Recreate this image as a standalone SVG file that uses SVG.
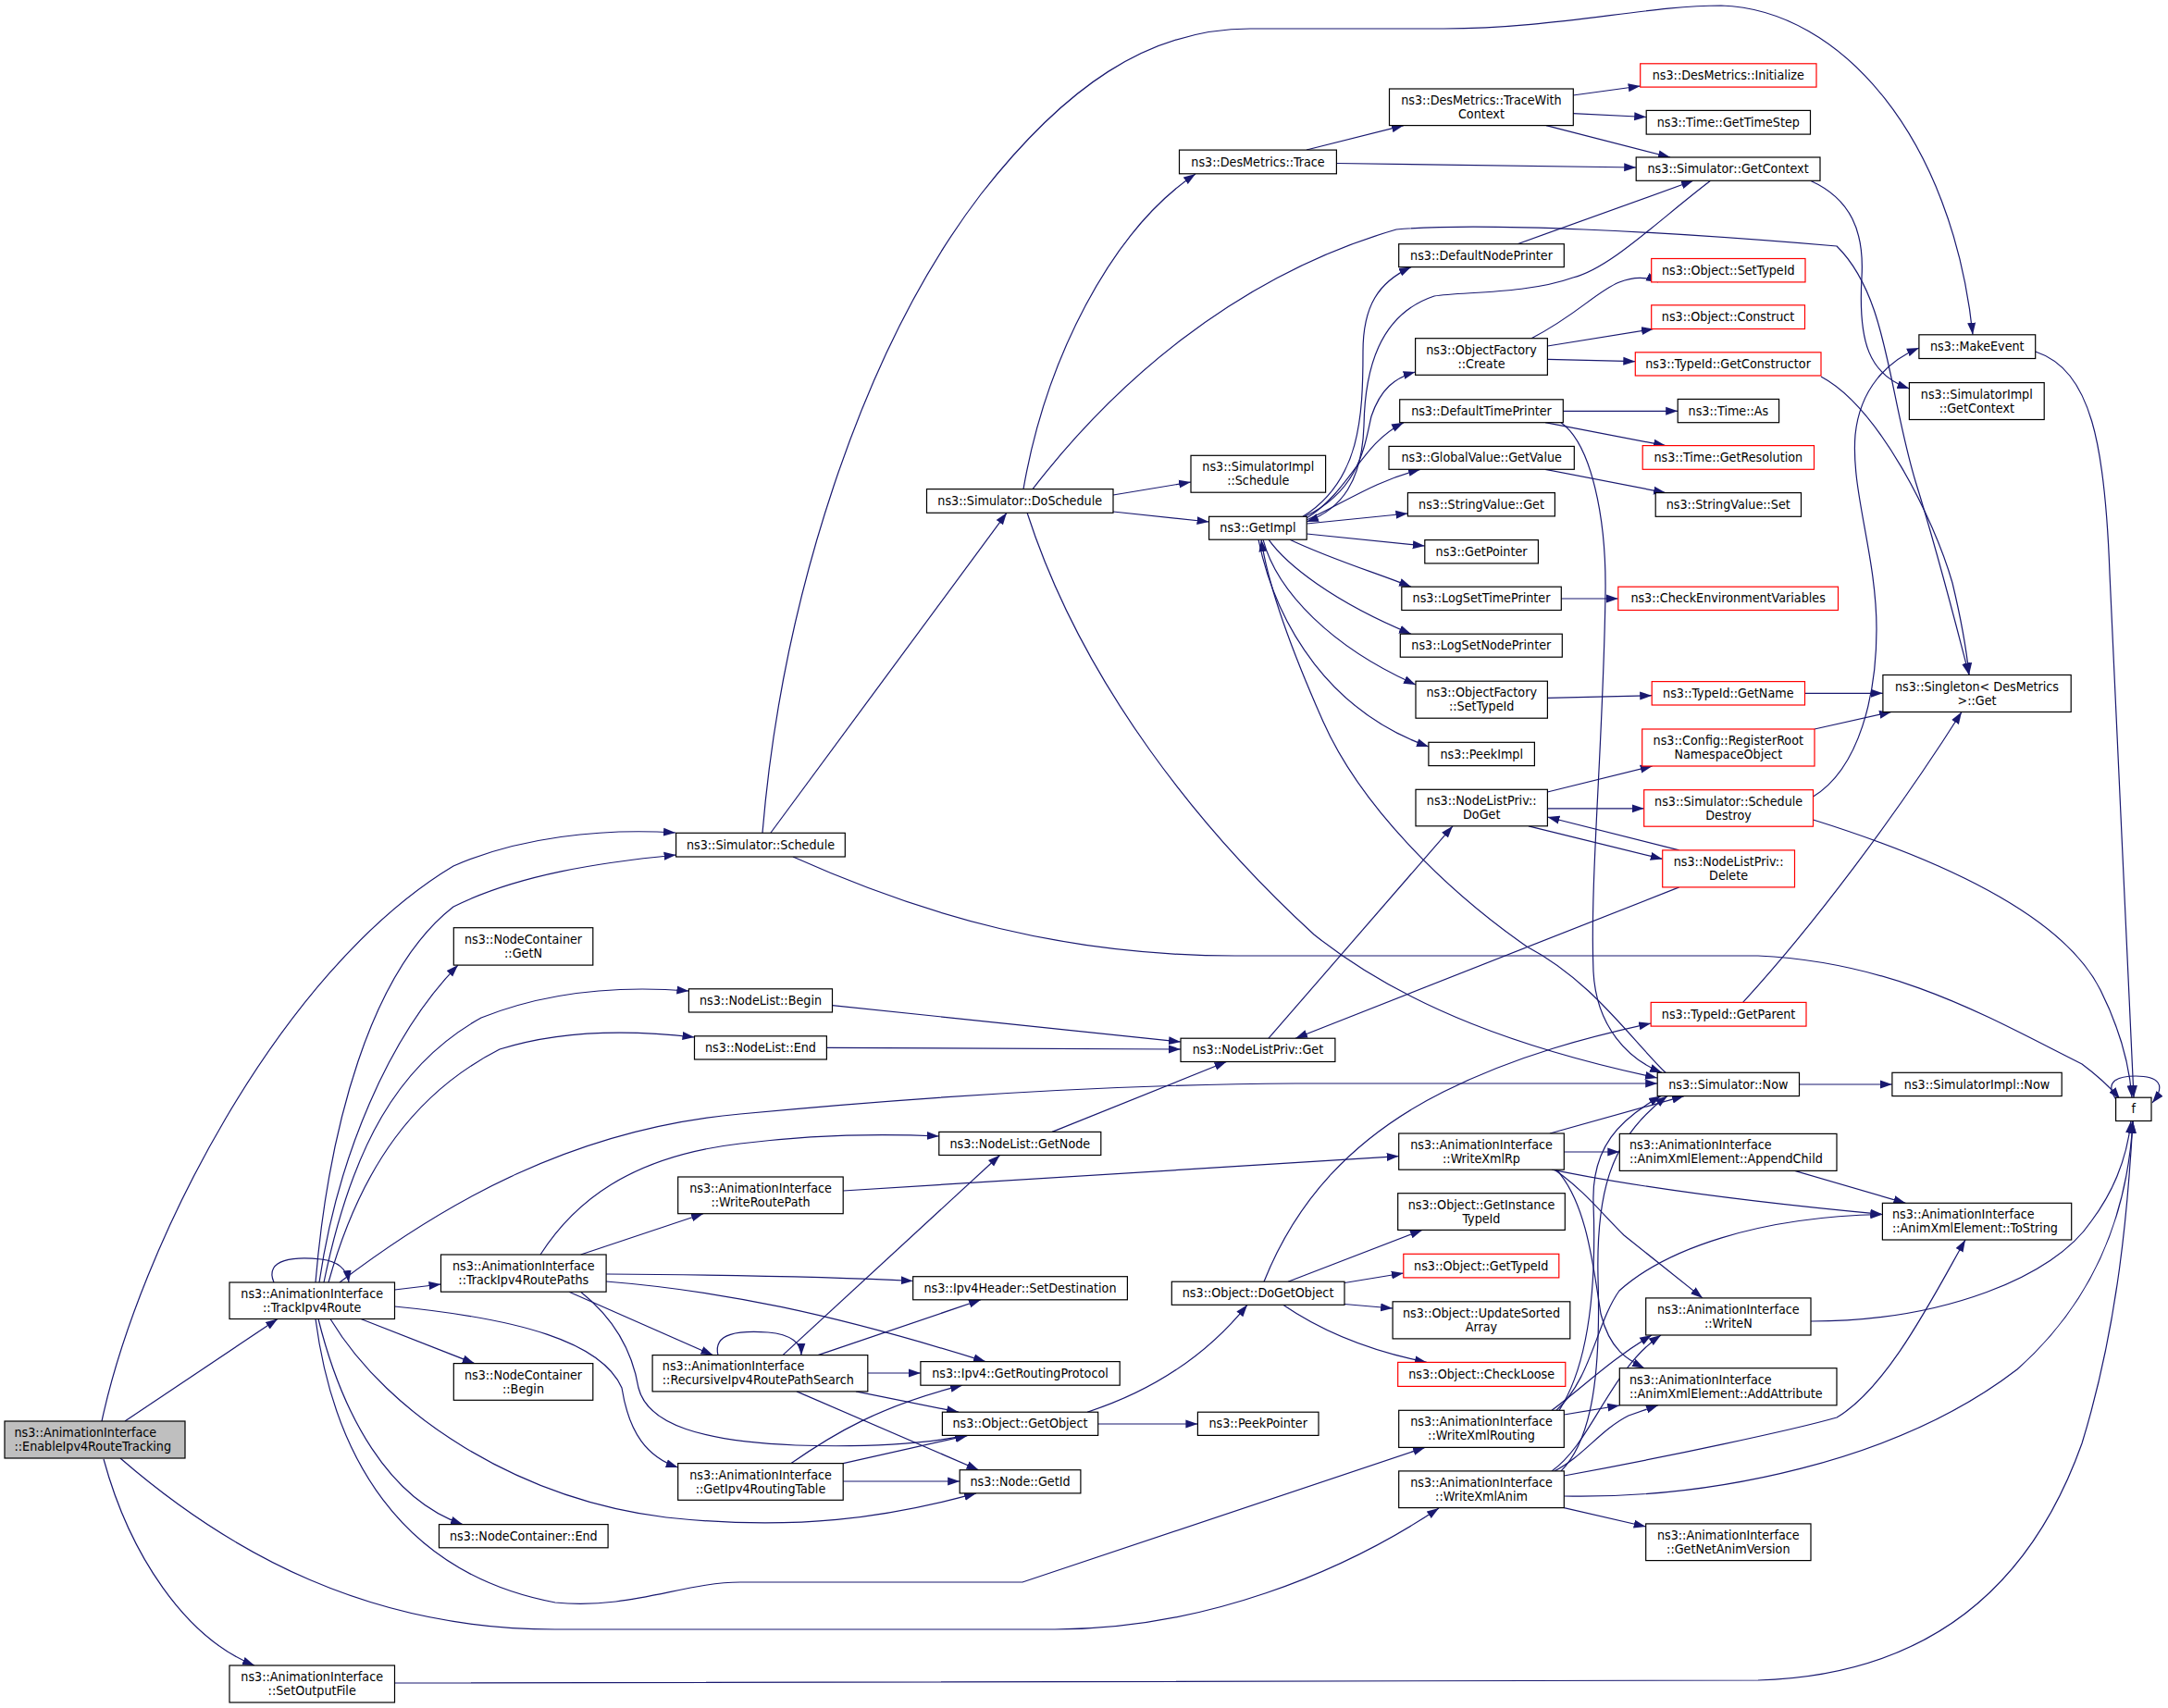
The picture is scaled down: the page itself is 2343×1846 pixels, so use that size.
<svg xmlns="http://www.w3.org/2000/svg" width="2343" height="1846" viewBox="0 0 2343 1846">
<defs>
<style>
.n{fill:#fff;stroke:#000;stroke-width:1.2}
.r{fill:#fff;stroke:#ff0000;stroke-width:1.2}
.g{fill:#bfbfbf;stroke:#000;stroke-width:1.2}
text{font-family:"DejaVu Sans Condensed","DejaVu Sans","Liberation Sans",sans-serif;font-stretch:condensed;font-size:14.2px;fill:#000}
.c{text-anchor:middle}
#edges path{fill:none;stroke:#191970;stroke-width:1.2;marker-end:url(#a)}
</style>
<marker id="a" markerUnits="userSpaceOnUse" markerWidth="14" markerHeight="10" refX="13" refY="5" orient="auto"><path d="M0,0.5 L13,5 L0,9.5z" fill="#191970"/></marker>
</defs>
<rect width="2343" height="1846" fill="#fff"/>
<g id="edges">
<path d="M110,1536 C150,1350 300,1050 490,936 C560,905 650,895 730,900"/>
<path d="M341,1386 C355,1220 400,1050 490,980 C560,945 650,932 730.6,924"/>
<path d="M135,1536 L300,1425.5"/>
<path d="M130,1576 C250,1680 400,1761 600,1761 L1140,1761 C1300,1761 1450,1700 1555,1630"/>
<path d="M112,1577 C140,1680 200,1770 275,1800"/>
<path d="M426.5,1819 L1900,1816 C2100,1810 2200,1700 2250,1560 C2290,1430 2300,1300 2305,1212"/>
<path d="M824,900 C845,650 930,380 1060,210 C1150,95 1240,31 1351,31 L1560,31 C1680,31 1780,6 1860,6 C1990,10 2110,150 2132,361.8"/>
<path d="M833,900 L1088,554.3"/>
<path d="M857,926 C1000,990 1150,1033 1335,1033 L1900,1033 C2050,1040 2150,1100 2250,1150 C2270,1165 2283,1178 2291,1188"/>
<path d="M1106,528.6 C1130,390 1200,250 1292,188"/>
<path d="M1116,528.6 C1200,420 1330,300 1509,248 C1600,240 1800,250 1985,266 C2040,320 2040,420 2070,520 C2095,600 2115,680 2128,729.5"/>
<path d="M1203,535 L1287,521"/>
<path d="M1203,553 L1306.6,564"/>
<path d="M1110,554 C1170,740 1300,900 1420,1010 C1520,1090 1650,1135 1791,1165"/>
<path d="M1412,162 L1517,135.6"/>
<path d="M1444,176.5 L1768.2,181"/>
<path d="M1700,103 L1772.7,93"/>
<path d="M1700,122.6 L1779.2,126.5"/>
<path d="M1671,135.6 L1805,170"/>
<path d="M1957,195.5 C2000,215 2015,250 2012,300 C2008,370 2020,405 2063.4,420"/>
<path d="M1848.6,195.3 C1790,240 1740,290 1700,300 C1650,318 1580,315 1550,320 C1490,340 1475,400 1474,460 C1472,520 1450,550 1412,564"/>
<path d="M1640,263.7 L1830,195.3"/>
<path d="M1408,558.3 C1470,520 1473,450 1473,380 C1473,330 1490,305 1525,288.6"/>
<path d="M1410,558.3 C1470,530 1475,480 1482,450 C1492,420 1508,408 1529.6,402"/>
<path d="M1412,560 C1460,530 1470,480 1517,456.7"/>
<path d="M1412,562 C1450,545 1485,520 1535,507.3"/>
<path d="M1412.2,566 L1521.4,555"/>
<path d="M1412.2,577 L1539.8,590"/>
<path d="M1394,583.2 C1440,605 1490,620 1525,634.2"/>
<path d="M1371,583.2 C1390,610 1440,650 1525,685.2"/>
<path d="M1365,583.2 C1380,640 1440,700 1530,740"/>
<path d="M1360,583.2 C1380,680 1440,770 1544,807"/>
<path d="M1800,1159.3 C1760,1120 1720,1060 1650,1023 C1560,960 1470,870 1430,780 C1390,690 1370,630 1363,583.2"/>
<path d="M1689.3,444.3 L1813.2,444.3"/>
<path d="M1670,456.7 L1800,481.6"/>
<path d="M1687,456.7 C1720,480 1736,560 1735,640 C1733,800 1718,950 1722,1050 C1725,1110 1760,1145 1796,1159.3"/>
<path d="M1655,365.7 C1705,340 1725,315 1750,305 C1765,299 1778,298 1792,304.9"/>
<path d="M1672.4,374 L1787,355.5"/>
<path d="M1672.4,388.3 L1767.3,390.7"/>
<path d="M1968,407 C2030,440 2090,560 2110,630 C2122,680 2126,710 2128,729.5"/>
<path d="M1670,507.3 L1800,532.6"/>
<path d="M1687.3,647 L1748.8,647"/>
<path d="M1672.4,754.4 L1785.2,751.7"/>
<path d="M1950.5,749.3 L2034.9,749.3"/>
<path d="M1961,788 L2044,769.5"/>
<path d="M1672.4,856 L1785.7,828"/>
<path d="M1672.4,873.8 L1776.7,873.8"/>
<path d="M1652,892.8 L1796.7,928.4"/>
<path d="M1814.7,918.9 L1672.4,883"/>
<path d="M1814.7,958.9 L1400,1122.2"/>
<path d="M1959.5,861 C2010,830 2028,750 2028,680 C2028,600 2000,530 2005,470 C2010,420 2040,390 2073.9,376"/>
<path d="M1959.5,886 C2100,930 2230,990 2270,1070 C2295,1120 2302,1160 2304,1186.2"/>
<path d="M2199.7,380 C2260,400 2275,480 2280,620 C2290,850 2300,1050 2306,1186.2"/>
<path d="M899.5,1086.6 L1276,1126"/>
<path d="M893.4,1132.4 L1276,1134"/>
<path d="M1371,1122.2 L1570,892.8"/>
<path d="M1137,1223.4 L1325.5,1147.5"/>
<path d="M296,1386 C285,1360 320,1358 347,1361 C365,1363 375,1372 377,1386"/>
<path d="M426.5,1394 L476.5,1388"/>
<path d="M345,1386 C365,1250 420,1120 495,1043.1"/>
<path d="M350,1386 C380,1240 430,1150 520,1100 C600,1068 680,1066 744.4,1071"/>
<path d="M355,1386 C390,1260 450,1180 540,1134 C610,1112 690,1114 750.5,1121"/>
<path d="M367,1386 C480,1300 620,1220 800,1204 C1000,1185 1200,1172 1400,1171 L1791.2,1171"/>
<path d="M341,1425.5 C360,1570 430,1700 600,1732 C680,1740 740,1710 800,1710 L1105,1710 L1540,1564.4"/>
<path d="M390,1425.5 L512.8,1473.6"/>
<path d="M344,1425.5 C370,1530 420,1620 500,1647.6"/>
<path d="M357,1425.5 C420,1530 560,1620 720,1640 C860,1655 960,1640 1055,1613.9"/>
<path d="M426.5,1412 C560,1425 650,1450 672,1500 C680,1550 700,1575 732.7,1586"/>
<path d="M627.6,1356 L760,1311.7"/>
<path d="M584,1356 C620,1300 680,1250 800,1236 C880,1226 950,1225 1014.8,1228"/>
<path d="M655,1377 C800,1378 900,1380 986.7,1384.5"/>
<path d="M655,1385 C780,1395 900,1420 1065,1471.6"/>
<path d="M615,1396.2 L770.4,1464.6"/>
<path d="M627.6,1396.2 C670,1430 685,1470 690,1500 C700,1540 760,1558 860,1562 C950,1565 1010,1558 1045,1551.4"/>
<path d="M776,1464.6 C770,1440 800,1438 830,1440 C855,1442 866,1452 866,1464.6"/>
<path d="M846,1464.6 L1080.6,1248.5"/>
<path d="M884,1464.6 L1060,1404.8"/>
<path d="M937.8,1484 L994.9,1484"/>
<path d="M925,1503.9 L1036,1526.2"/>
<path d="M861,1503.9 L1057.6,1588.7"/>
<path d="M855,1581.6 C900,1550 950,1520 1040,1497.2"/>
<path d="M911.2,1581.6 L1046,1551.4"/>
<path d="M911.2,1601 L1037.2,1601"/>
<path d="M1175,1526.2 C1240,1505 1300,1470 1348,1410.3"/>
<path d="M1186.7,1539 L1294.4,1539"/>
<path d="M1366,1385.2 C1400,1300 1460,1230 1560,1180 C1640,1140 1720,1120 1784.2,1106"/>
<path d="M1392,1385.2 L1537,1329.4"/>
<path d="M1453,1386.5 L1516.8,1376"/>
<path d="M1453,1409.5 L1505.1,1414"/>
<path d="M1386.7,1410.3 C1430,1440 1480,1460 1542,1472.4"/>
<path d="M1883.6,1083.4 C1960,1000 2050,880 2120,769.5"/>
<path d="M1944.5,1172 L2044.9,1172"/>
<path d="M911.2,1287 L1511.7,1249.6"/>
<path d="M1675,1225 L1820,1184.6"/>
<path d="M1690.3,1245 L1750.3,1245"/>
<path d="M1677,1264.2 C1780,1285 1900,1300 2034.4,1312.5"/>
<path d="M1680,1264.2 C1710,1285 1730,1310 1755,1335 L1840,1402.9"/>
<path d="M1682,1264.2 C1715,1300 1722,1370 1730,1420 C1740,1460 1760,1470 1777,1478.7"/>
<path d="M1677,1524.3 C1710,1500 1740,1470 1785,1443"/>
<path d="M1690.3,1529 L1750.3,1519"/>
<path d="M1682,1524.3 C1720,1490 1725,1430 1750,1395 C1800,1350 1900,1315 2034.4,1312.5"/>
<path d="M1685,1524.3 C1720,1470 1725,1380 1722,1300 C1720,1240 1750,1210 1795,1184.6"/>
<path d="M1687,1589.9 C1722,1555 1730,1480 1727,1380 C1725,1290 1740,1230 1802,1184.6"/>
<path d="M1677,1589.9 C1720,1560 1740,1480 1795,1443"/>
<path d="M1680,1589.9 C1710,1575 1730,1545 1760,1530 L1792,1518.8"/>
<path d="M1690.3,1595 C1800,1575 1940,1545 1985,1532 C2040,1500 2090,1400 2124,1340"/>
<path d="M1690.3,1617 C1850,1620 2050,1580 2180,1480 C2270,1400 2300,1300 2305,1211.5"/>
<path d="M1690.3,1629.6 L1778.7,1650"/>
<path d="M1939.6,1265.4 L2059.4,1300.3"/>
<path d="M1957,1428 C2100,1428 2220,1380 2260,1320 C2290,1280 2300,1240 2303,1211.5"/>
<path d="M2288,1190 C2272,1168 2290,1163 2308,1163 C2332,1163 2342,1172 2326,1192"/>
</g>
<g id="n_E"><rect class="g" x="5" y="1536" width="195" height="40"/><text x="15.5" y="1553">ns3::AnimationInterface</text><text x="15.5" y="1568">::EnableIpv4RouteTracking</text></g>
<g id="n_TR"><rect class="n" x="248" y="1386" width="178.5" height="39.5"/><text class="c" x="337.2" y="1402.7">ns3::AnimationInterface</text><text class="c" x="337.2" y="1417.7">::TrackIpv4Route</text></g>
<g id="n_SO"><rect class="n" x="248" y="1800" width="178.5" height="40"/><text class="c" x="337.2" y="1817">ns3::AnimationInterface</text><text class="c" x="337.2" y="1832">::SetOutputFile</text></g>
<g id="n_SS"><rect class="n" x="730.6" y="900.3" width="182.7" height="25.7"/><text class="c" x="822" y="917.7">ns3::Simulator::Schedule</text></g>
<g id="n_NCGN"><rect class="n" x="490.3" y="1002.7" width="150.5" height="40.4"/><text class="c" x="565.5" y="1019.9">ns3::NodeContainer</text><text class="c" x="565.5" y="1034.9">::GetN</text></g>
<g id="n_NLB"><rect class="n" x="744.4" y="1068.8" width="155.1" height="25.2"/><text class="c" x="822" y="1085.9">ns3::NodeList::Begin</text></g>
<g id="n_NLE"><rect class="n" x="750.5" y="1119.8" width="142.9" height="25.2"/><text class="c" x="822" y="1136.9">ns3::NodeList::End</text></g>
<g id="n_TRP"><rect class="n" x="476.5" y="1356" width="178.6" height="40.2"/><text class="c" x="565.8" y="1373.1">ns3::AnimationInterface</text><text class="c" x="565.8" y="1388.1">::TrackIpv4RoutePaths</text></g>
<g id="n_NCB"><rect class="n" x="490.3" y="1473.6" width="150.5" height="39.7"/><text class="c" x="565.5" y="1490.5">ns3::NodeContainer</text><text class="c" x="565.5" y="1505.5">::Begin</text></g>
<g id="n_NCE"><rect class="n" x="474.5" y="1647.6" width="182.6" height="25.2"/><text class="c" x="565.8" y="1664.7">ns3::NodeContainer::End</text></g>
<g id="n_WRP"><rect class="n" x="732.7" y="1272" width="178.5" height="39.7"/><text class="c" x="822" y="1288.9">ns3::AnimationInterface</text><text class="c" x="822" y="1303.9">::WriteRoutePath</text></g>
<g id="n_RIRPS"><rect class="n" x="705.1" y="1464.6" width="232.7" height="39.3"/><text x="715.8" y="1481.3">ns3::AnimationInterface</text><text x="715.8" y="1496.3">::RecursiveIpv4RoutePathSearch</text></g>
<g id="n_GIRT"><rect class="n" x="732.7" y="1581.6" width="178.5" height="39.7"/><text class="c" x="822" y="1598.5">ns3::AnimationInterface</text><text class="c" x="822" y="1613.5">::GetIpv4RoutingTable</text></g>
<g id="n_NLGN"><rect class="n" x="1014.8" y="1223.4" width="175" height="25.1"/><text class="c" x="1102.3" y="1240.5">ns3::NodeList::GetNode</text></g>
<g id="n_SD"><rect class="n" x="986.7" y="1379.7" width="231.7" height="25.1"/><text class="c" x="1102.5" y="1396.8">ns3::Ipv4Header::SetDestination</text></g>
<g id="n_GRP"><rect class="n" x="994.9" y="1471.6" width="215.3" height="25.6"/><text class="c" x="1102.5" y="1488.9">ns3::Ipv4::GetRoutingProtocol</text></g>
<g id="n_GO"><rect class="n" x="1018.4" y="1526.2" width="168.3" height="25.2"/><text class="c" x="1102.5" y="1543.3">ns3::Object::GetObject</text></g>
<g id="n_NGI"><rect class="n" x="1037.2" y="1588.7" width="130.7" height="25.2"/><text class="c" x="1102.5" y="1605.8">ns3::Node::GetId</text></g>
<g id="n_PP"><rect class="n" x="1294.4" y="1526.2" width="130.6" height="25.2"/><text class="c" x="1359.7" y="1543.3">ns3::PeekPointer</text></g>
<g id="n_DGO"><rect class="n" x="1266.3" y="1385.2" width="186.7" height="25.1"/><text class="c" x="1359.6" y="1402.2">ns3::Object::DoGetObject</text></g>
<g id="n_NLPG"><rect class="n" x="1276" y="1122.2" width="166.9" height="25.3"/><text class="c" x="1359.5" y="1139.3">ns3::NodeListPriv::Get</text></g>
<g id="n_DS"><rect class="n" x="1001.5" y="528.6" width="201.5" height="25.7"/><text class="c" x="1102.2" y="546">ns3::Simulator::DoSchedule</text></g>
<g id="n_SIS"><rect class="n" x="1287" y="492.3" width="145.6" height="39.9"/><text class="c" x="1359.8" y="509.2">ns3::SimulatorImpl</text><text class="c" x="1359.8" y="524.2">::Schedule</text></g>
<g id="n_GI"><rect class="n" x="1306.6" y="558.3" width="105.6" height="24.9"/><text class="c" x="1359.4" y="575.3">ns3::GetImpl</text></g>
<g id="n_DMT"><rect class="n" x="1274.5" y="162.1" width="169.9" height="25.7"/><text class="c" x="1359.5" y="179.5">ns3::DesMetrics::Trace</text></g>
<g id="n_TWC"><rect class="n" x="1501.5" y="96" width="198.8" height="39.6"/><text class="c" x="1600.9" y="112.8">ns3::DesMetrics::TraceWith</text><text class="c" x="1600.9" y="127.8">Context</text></g>
<g id="n_DNP"><rect class="n" x="1511.7" y="263.7" width="178.6" height="24.9"/><text class="c" x="1601" y="280.7">ns3::DefaultNodePrinter</text></g>
<g id="n_OFC"><rect class="n" x="1529.6" y="365.7" width="142.8" height="39.6"/><text class="c" x="1601" y="382.5">ns3::ObjectFactory</text><text class="c" x="1601" y="397.5">::Create</text></g>
<g id="n_DTP"><rect class="n" x="1512.7" y="431.8" width="176.6" height="24.9"/><text class="c" x="1601" y="448.8">ns3::DefaultTimePrinter</text></g>
<g id="n_GVG"><rect class="n" x="1501" y="482.4" width="200.3" height="24.9"/><text class="c" x="1601.2" y="499.4">ns3::GlobalValue::GetValue</text></g>
<g id="n_SVG"><rect class="n" x="1521.4" y="532.6" width="159" height="25.3"/><text class="c" x="1601" y="549.8">ns3::StringValue::Get</text></g>
<g id="n_GP"><rect class="n" x="1539.8" y="583.6" width="122.6" height="25.3"/><text class="c" x="1601.1" y="600.8">ns3::GetPointer</text></g>
<g id="n_LSTP"><rect class="n" x="1514.8" y="634.2" width="172.5" height="25.3"/><text class="c" x="1601" y="651.4">ns3::LogSetTimePrinter</text></g>
<g id="n_LSNP"><rect class="n" x="1513.3" y="685.2" width="175" height="25"/><text class="c" x="1600.8" y="702.2">ns3::LogSetNodePrinter</text></g>
<g id="n_OFST"><rect class="n" x="1530" y="736.2" width="142.4" height="40"/><text class="c" x="1601.2" y="753.2">ns3::ObjectFactory</text><text class="c" x="1601.2" y="768.2">::SetTypeId</text></g>
<g id="n_PI"><rect class="n" x="1543.9" y="802.3" width="114.5" height="25.3"/><text class="c" x="1601.2" y="819.5">ns3::PeekImpl</text></g>
<g id="n_DOG"><rect class="n" x="1530" y="853.3" width="142.4" height="39.5"/><text class="c" x="1601.2" y="870">ns3::NodeListPriv::</text><text class="c" x="1601.2" y="885">DoGet</text></g>
<g id="n_WXR"><rect class="n" x="1511.7" y="1225" width="178.6" height="39.2"/><text class="c" x="1601" y="1241.6">ns3::AnimationInterface</text><text class="c" x="1601" y="1256.6">::WriteXmlRp</text></g>
<g id="n_GITI"><rect class="n" x="1510.7" y="1289.7" width="180.6" height="39.7"/><text class="c" x="1601" y="1306.5">ns3::Object::GetInstance</text><text class="c" x="1601" y="1321.5">TypeId</text></g>
<g id="n_OGT"><rect class="r" x="1516.8" y="1355.3" width="168" height="25.6"/><text class="c" x="1600.8" y="1372.6">ns3::Object::GetTypeId</text></g>
<g id="n_USA"><rect class="n" x="1505.1" y="1406.8" width="191.7" height="40.1"/><text class="c" x="1601" y="1423.8">ns3::Object::UpdateSorted</text><text class="c" x="1601" y="1438.8">Array</text></g>
<g id="n_CL"><rect class="r" x="1510.7" y="1472.4" width="181.1" height="26"/><text class="c" x="1601.2" y="1489.9">ns3::Object::CheckLoose</text></g>
<g id="n_WXRT"><rect class="n" x="1511.7" y="1524.3" width="178.6" height="40.1"/><text class="c" x="1601" y="1541.3">ns3::AnimationInterface</text><text class="c" x="1601" y="1556.3">::WriteXmlRouting</text></g>
<g id="n_WXA"><rect class="n" x="1511.7" y="1589.9" width="178.6" height="39.7"/><text class="c" x="1601" y="1606.7">ns3::AnimationInterface</text><text class="c" x="1601" y="1621.7">::WriteXmlAnim</text></g>
<g id="n_DMI"><rect class="r" x="1772.7" y="68.8" width="190.3" height="25.3"/><text class="c" x="1867.8" y="85.9">ns3::DesMetrics::Initialize</text></g>
<g id="n_TGTS"><rect class="n" x="1779.2" y="119.4" width="177.3" height="25.7"/><text class="c" x="1867.8" y="136.8">ns3::Time::GetTimeStep</text></g>
<g id="n_SGC"><rect class="n" x="1768.2" y="170" width="198.8" height="25.3"/><text class="c" x="1867.6" y="187.1">ns3::Simulator::GetContext</text></g>
<g id="n_OSTI"><rect class="r" x="1784.7" y="279.5" width="166.3" height="25.4"/><text class="c" x="1867.8" y="296.7">ns3::Object::SetTypeId</text></g>
<g id="n_OC"><rect class="r" x="1784.7" y="329.8" width="165.8" height="25.7"/><text class="c" x="1867.6" y="347.1">ns3::Object::Construct</text></g>
<g id="n_TGC"><rect class="r" x="1767.3" y="380.8" width="200.7" height="25.2"/><text class="c" x="1867.6" y="397.9">ns3::TypeId::GetConstructor</text></g>
<g id="n_TA"><rect class="n" x="1813.2" y="431.4" width="109.4" height="25.3"/><text class="c" x="1867.9" y="448.5">ns3::Time::As</text></g>
<g id="n_TGR"><rect class="r" x="1775.2" y="481.6" width="185.3" height="25.7"/><text class="c" x="1867.8" y="498.9">ns3::Time::GetResolution</text></g>
<g id="n_SVS"><rect class="n" x="1789.2" y="532.6" width="157.3" height="25.7"/><text class="c" x="1867.8" y="550">ns3::StringValue::Set</text></g>
<g id="n_CEV"><rect class="r" x="1748.8" y="634.2" width="237.7" height="25.3"/><text class="c" x="1867.6" y="651.4">ns3::CheckEnvironmentVariables</text></g>
<g id="n_TGN"><rect class="r" x="1785.2" y="736.6" width="165.3" height="25.4"/><text class="c" x="1867.8" y="753.8">ns3::TypeId::GetName</text></g>
<g id="n_CRRNO"><rect class="r" x="1774.7" y="788" width="186.3" height="40"/><text class="c" x="1867.8" y="805">ns3::Config::RegisterRoot</text><text class="c" x="1867.8" y="820">NamespaceObject</text></g>
<g id="n_SSD"><rect class="r" x="1776.7" y="853.7" width="182.8" height="39.5"/><text class="c" x="1868.1" y="870.5">ns3::Simulator::Schedule</text><text class="c" x="1868.1" y="885.5">Destroy</text></g>
<g id="n_NLPD"><rect class="r" x="1796.7" y="918.9" width="142.8" height="40"/><text class="c" x="1868.1" y="935.9">ns3::NodeListPriv::</text><text class="c" x="1868.1" y="950.9">Delete</text></g>
<g id="n_TGP"><rect class="r" x="1784.2" y="1083.4" width="167.8" height="25.7"/><text class="c" x="1868.1" y="1100.8">ns3::TypeId::GetParent</text></g>
<g id="n_SN"><rect class="n" x="1791.2" y="1159.3" width="153.3" height="25.3"/><text class="c" x="1867.8" y="1176.5">ns3::Simulator::Now</text></g>
<g id="n_AC"><rect class="n" x="1750.3" y="1225.4" width="234.7" height="40"/><text x="1761" y="1242.4">ns3::AnimationInterface</text><text x="1761" y="1257.4">::AnimXmlElement::AppendChild</text></g>
<g id="n_WN"><rect class="n" x="1778.7" y="1402.9" width="178.3" height="40.1"/><text class="c" x="1867.8" y="1420">ns3::AnimationInterface</text><text class="c" x="1867.8" y="1435">::WriteN</text></g>
<g id="n_AA"><rect class="n" x="1750.3" y="1478.7" width="234.7" height="40.1"/><text x="1761" y="1495.8">ns3::AnimationInterface</text><text x="1761" y="1510.8">::AnimXmlElement::AddAttribute</text></g>
<g id="n_GNAV"><rect class="n" x="1778.7" y="1646.9" width="178.3" height="39.7"/><text class="c" x="1867.8" y="1663.8">ns3::AnimationInterface</text><text class="c" x="1867.8" y="1678.8">::GetNetAnimVersion</text></g>
<g id="n_ME"><rect class="n" x="2073.9" y="361.8" width="125.8" height="25.7"/><text class="c" x="2136.8" y="379.2">ns3::MakeEvent</text></g>
<g id="n_SIGC"><rect class="n" x="2063.4" y="413.6" width="145.8" height="39.9"/><text class="c" x="2136.3" y="430.6">ns3::SimulatorImpl</text><text class="c" x="2136.3" y="445.6">::GetContext</text></g>
<g id="n_SG"><rect class="n" x="2034.9" y="729.5" width="203.3" height="40"/><text class="c" x="2136.5" y="746.5">ns3::Singleton&lt; DesMetrics</text><text class="c" x="2136.5" y="761.5"> &gt;::Get</text></g>
<g id="n_SIN"><rect class="n" x="2044.9" y="1159.3" width="183.3" height="25.3"/><text class="c" x="2136.5" y="1176.5">ns3::SimulatorImpl::Now</text></g>
<g id="n_TS"><rect class="n" x="2034.4" y="1300.3" width="204.3" height="39.7"/><text x="2045" y="1317.1">ns3::AnimationInterface</text><text x="2045" y="1332.1">::AnimXmlElement::ToString</text></g>
<g id="n_F"><rect class="n" x="2286.6" y="1186.2" width="38.4" height="25.3"/><text class="c" x="2305.8" y="1203.4">f</text></g>
</svg>
